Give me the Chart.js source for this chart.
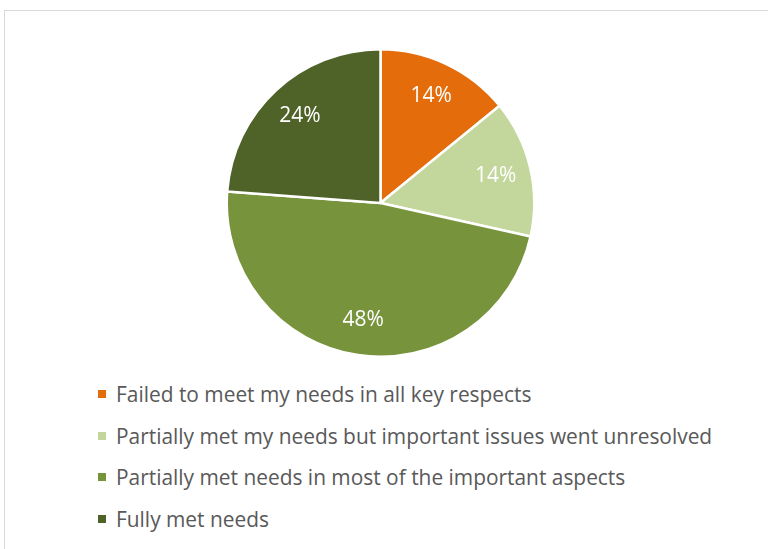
<!DOCTYPE html>
<html>
<head>
<meta charset="utf-8">
<script src="https://cdn.jsdelivr.net/npm/chart.js@4"></script>
<style>
  body { margin: 0; background: #fff; font-family: "Open Sans", sans-serif; }
  .frame { position: absolute; left: 4px; top: 10px; width: 780px; height: 560px;
           border-top: 1px solid #d9d9d9; border-left: 1px solid #d9d9d9; }
  .pie-box { position: absolute; left: 0; top: 48px; width: 768px; height: 310px; }
  #legend { position: absolute; left: 98px; top: 373px; margin: 0; padding: 0; list-style: none; }
  #legend li { height: 41.7px; display: flex; align-items: center; color: #595959; font-size: 20.9px; white-space: nowrap; }
  #legend span { display: inline-block; width: 8px; height: 8px; margin-right: 10px; }
</style>
</head>
<body>
<div class="frame"></div>
<div class="pie-box"><canvas id="pie"></canvas></div>
<ul id="legend"></ul>
<script>
const categories = [
    'Failed to meet my needs in all key respects',
    'Partially met my needs but important issues went unresolved',
    'Partially met needs in most of the important aspects',
    'Fully met needs'
];
const shares = [14.1, 14.4, 47.7, 23.8];
const sliceColors = ['#e46c0a', '#c3d69b', '#77933c', '#4f6228'];

// white % labels inside each slice
const sliceLabels = {
    id: 'sliceLabels',
    afterDatasetsDraw(chart) {
        const c = chart.ctx;
        const meta = chart.getDatasetMeta(0);
        c.save();
        c.fillStyle = '#fff';
        c.font = '21px "Open Sans", sans-serif';
        c.textAlign = 'center';
        c.textBaseline = 'middle';
        meta.data.forEach((arc, i) => {
            const p = arc.getProps(['x', 'y', 'startAngle', 'endAngle', 'outerRadius'], true);
            const mid = (p.startAngle + p.endAngle) / 2;
            const r = p.outerRadius * 0.77;
            c.fillText(Math.round(shares[i]) + '%', p.x + Math.cos(mid) * r, p.y + Math.sin(mid) * r);
        });
        c.restore();
    }
};

const ctx = document.getElementById('pie').getContext('2d');

const pieChart = new Chart(ctx, {
    type: 'pie',
    data: {
        labels: categories,
        datasets: [{
            data: shares,
            backgroundColor: sliceColors,
            borderColor: '#fff',
            borderWidth: 2.5
        }]
    },
    options: {
        responsive: true,
        maintainAspectRatio: false,
        animation: false,
        layout: { padding: { left: 0, right: 7 } },
        plugins: {
            legend: { display: false },
            tooltip: { enabled: false }
        }
    },
    plugins: [sliceLabels]
});

const legend = document.getElementById('legend');
categories.forEach((name, i) => {
    const li = document.createElement('li');
    li.innerHTML = '<span style="background:' + sliceColors[i] + '"></span>' + name;
    legend.appendChild(li);
});
</script>
</body>
</html>
